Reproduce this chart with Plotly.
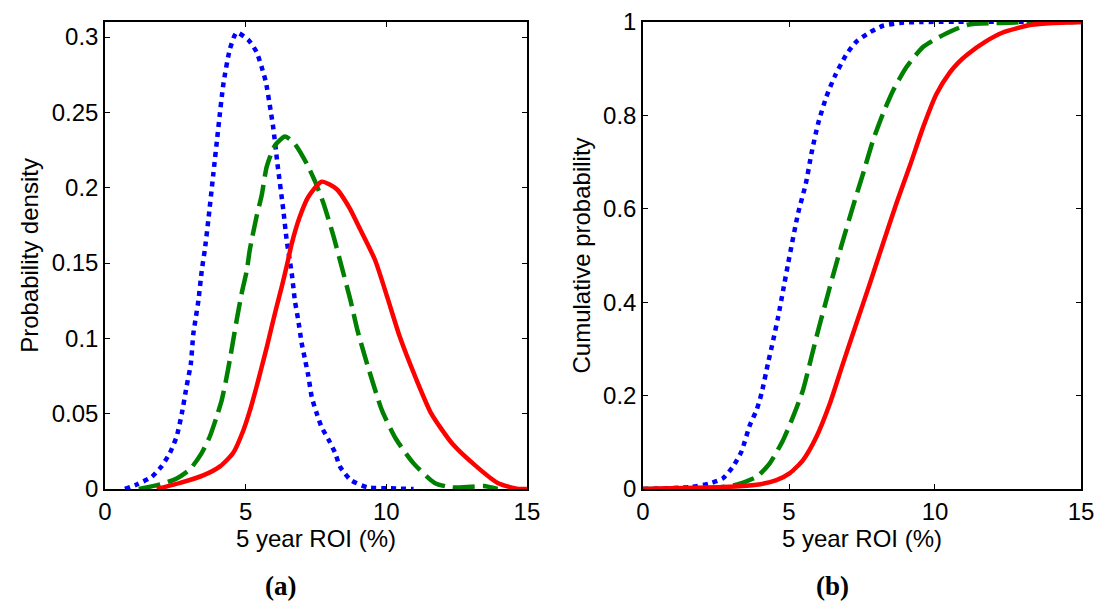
import plotly.graph_objects as go

# ---- probability density curves (5 year ROI in %, density) ----
pdf_blue_x = [0.71, 1.13, 1.66, 2.01, 2.31, 2.55, 2.73, 2.9, 3.05, 3.14, 3.23, 3.32, 3.44, 3.55,
              3.67, 3.85, 4.03, 4.21, 4.44, 4.68, 5.1, 5.39, 5.57, 5.72, 5.89, 5.98, 6.13, 6.34,
              6.46, 6.64, 6.75, 6.87, 6.99, 7.11, 7.23, 7.35, 7.53, 7.7, 7.94, 8.18, 8.35, 8.73,
              9.35, 10.0, 10.97]
pdf_blue_y = [0.0, 0.003, 0.008, 0.015, 0.024, 0.035, 0.050, 0.068, 0.083, 0.103, 0.114, 0.125, 0.145, 0.159,
              0.178, 0.209, 0.240, 0.269, 0.292, 0.303, 0.298, 0.290, 0.280, 0.270, 0.251, 0.240, 0.216, 0.185,
              0.165, 0.143, 0.125, 0.112, 0.097, 0.086, 0.075, 0.061, 0.050, 0.041, 0.033, 0.024, 0.015, 0.006,
              0.001, 0.0005, 0.0]

pdf_green_x = [1.2, 1.96, 2.55, 3.02, 3.44, 3.73, 3.97, 4.15, 4.3, 4.44, 4.56, 4.68, 4.86, 5.04,
               5.15, 5.39, 5.57, 5.75, 6.04, 6.4, 6.75, 7.17, 7.47, 7.76, 8.12, 8.35, 8.73, 8.98,
               9.35, 9.85, 10.35, 10.97, 11.72, 12.35, 13.0, 13.47, 13.96]
pdf_green_y = [0.0, 0.003, 0.007, 0.013, 0.024, 0.035, 0.048, 0.059, 0.072, 0.086, 0.099, 0.112, 0.130, 0.145,
               0.159, 0.181, 0.195, 0.214, 0.228, 0.234, 0.229, 0.216, 0.204, 0.190, 0.168, 0.152, 0.125, 0.105,
               0.081, 0.052, 0.033, 0.017, 0.004, 0.001, 0.0015, 0.002, 0.0]

pdf_red_x = [1.84, 2.67, 3.49, 4.09, 4.56, 4.92, 5.15, 5.39, 5.57, 5.75, 5.93, 6.1, 6.28, 6.46,
             6.64, 6.93, 7.23, 7.7, 8.24, 8.71, 9.0, 9.6, 10.04, 10.48, 11.04, 11.6, 12.35, 13.2,
             13.96, 14.7, 15.0]
pdf_red_y = [0.0, 0.004, 0.009, 0.015, 0.024, 0.039, 0.052, 0.068, 0.081, 0.094, 0.108, 0.121, 0.134, 0.148,
             0.163, 0.181, 0.194, 0.204, 0.199, 0.186, 0.175, 0.152, 0.127, 0.101, 0.074, 0.05, 0.03, 0.015,
             0.004, 0.0, 0.0]

# ---- cumulative probability curves ----
cdf_blue_x = [0.0, 1.6, 2.29, 2.74, 3.08, 3.37, 3.66, 3.89, 4.06, 4.28, 4.46, 4.63, 4.8, 4.97, 5.31,
              5.58, 5.77, 6.0, 6.28, 6.57, 6.97, 7.31, 7.77, 8.22, 8.8, 9.5, 15.0]
cdf_blue_y = [0.0, 0.004, 0.012, 0.023, 0.048, 0.08, 0.137, 0.169, 0.205, 0.269, 0.319, 0.369, 0.426, 0.483, 0.590,
              0.655, 0.719, 0.783, 0.840, 0.884, 0.931, 0.958, 0.978, 0.992, 0.998, 1.0, 1.0]

cdf_green_x = [0.0, 2.4, 3.2, 3.89, 4.34, 4.8, 5.14, 5.48, 5.77, 6.0, 6.28, 6.51, 6.8, 7.2, 7.54,
               7.88, 8.22, 8.57, 9.03, 9.6, 10.4, 11.12, 12.3, 13.2, 15.0]
cdf_green_y = [0.0, 0.002, 0.009, 0.026, 0.055, 0.105, 0.155, 0.212, 0.283, 0.340, 0.405, 0.458, 0.522, 0.607, 0.676,
               0.747, 0.804, 0.854, 0.904, 0.947, 0.976, 0.994, 0.998, 1.0, 1.0]

cdf_red_x = [0.0, 2.74, 3.89, 4.57, 5.03, 5.48, 5.94, 6.4, 6.85, 7.31, 7.77, 8.2, 8.68, 9.14, 9.6,
             10.05, 10.51, 10.8, 11.12, 11.73, 12.3, 13.3, 14.1, 15.0]
cdf_red_y = [0.0, 0.004, 0.009, 0.019, 0.034, 0.062, 0.112, 0.183, 0.269, 0.355, 0.44, 0.522, 0.612, 0.692, 0.776,
             0.846, 0.892, 0.913, 0.931, 0.958, 0.977, 0.994, 0.998, 1.0]

x_ticks = [0, 5, 10, 15]
pdf_ticks = [0, 0.05, 0.1, 0.15, 0.2, 0.25, 0.3]
cdf_ticks = [0, 0.2, 0.4, 0.6, 0.8, 1]

BLUE, GREEN, RED = "#0000FF", "#008000", "#FF0000"
W = 4.5
blue_line = dict(color=BLUE, width=W, dash="5px,5px", shape="spline", smoothing=0.6)
green_line = dict(color=GREEN, width=W, dash="22px,8px", shape="spline", smoothing=0.6)
red_line = dict(color=RED, width=W, shape="spline", smoothing=0.6)

fig = go.Figure()
fig.add_trace(go.Scatter(x=pdf_blue_x, y=pdf_blue_y, mode="lines", line=blue_line, xaxis="x", yaxis="y"))
fig.add_trace(go.Scatter(x=pdf_green_x, y=pdf_green_y, mode="lines", line=green_line, xaxis="x", yaxis="y"))
fig.add_trace(go.Scatter(x=pdf_red_x, y=pdf_red_y, mode="lines", line=red_line, xaxis="x", yaxis="y"))
fig.add_trace(go.Scatter(x=cdf_blue_x, y=cdf_blue_y, mode="lines", line=blue_line, xaxis="x2", yaxis="y2"))
fig.add_trace(go.Scatter(x=cdf_green_x, y=cdf_green_y, mode="lines", line=green_line, xaxis="x2", yaxis="y2"))
fig.add_trace(go.Scatter(x=cdf_red_x, y=cdf_red_y, mode="lines", line=red_line, xaxis="x2", yaxis="y2"))

FONT = "Liberation Sans, Arial, sans-serif"
SERIF = "Liberation Serif, Times New Roman, serif"
SIZE = 24
axis_common = dict(
    showline=True, linecolor="black", linewidth=1.5, mirror="ticks",
    ticks="inside", ticklen=5, tickwidth=1, tickcolor="black",
    showgrid=False, zeroline=False, automargin=False,
    tickfont=dict(family=FONT, size=SIZE, color="black"),
)

fig.update_layout(
    width=1096, height=601, autosize=False,
    margin=dict(l=0, r=0, t=0, b=0, pad=0),
    paper_bgcolor="white", plot_bgcolor="white",
    showlegend=False,
    font=dict(family=FONT, size=SIZE, color="black"),
    xaxis=dict(domain=[0.0958, 0.4808], range=[0, 15], tickvals=x_ticks,
               title=dict(text="5 year ROI (%)", standoff=2, font=dict(size=SIZE)),
               anchor="y", **axis_common),
    yaxis=dict(domain=[0.1864, 0.9634], range=[0, 0.31], tickvals=pdf_ticks,
               ticktext=[("%g" % v) for v in pdf_ticks],
               title=dict(text="Probability density", standoff=6, font=dict(size=SIZE)),
               anchor="x", **axis_common),
    xaxis2=dict(domain=[0.5867, 0.9863], range=[0, 15], tickvals=x_ticks,
                title=dict(text="5 year ROI (%)", standoff=2, font=dict(size=SIZE)),
                anchor="y2", **axis_common),
    yaxis2=dict(domain=[0.1864, 0.9634], range=[0, 1], tickvals=cdf_ticks,
                ticktext=[("%g" % v) for v in cdf_ticks],
                title=dict(text="Cumulative probability", standoff=6, font=dict(size=SIZE)),
                anchor="x2", **axis_common),
    annotations=[
        dict(text="<b>(a)</b>", x=280 / 1096, y=1 - 586 / 601, xref="paper", yref="paper",
             xanchor="center", yanchor="middle", showarrow=False,
             font=dict(family=SERIF, size=27)),
        dict(text="<b>(b)</b>", x=832 / 1096, y=1 - 586 / 601, xref="paper", yref="paper",
             xanchor="center", yanchor="middle", showarrow=False,
             font=dict(family=SERIF, size=27)),
    ],
)

fig.write_html("out.html")
